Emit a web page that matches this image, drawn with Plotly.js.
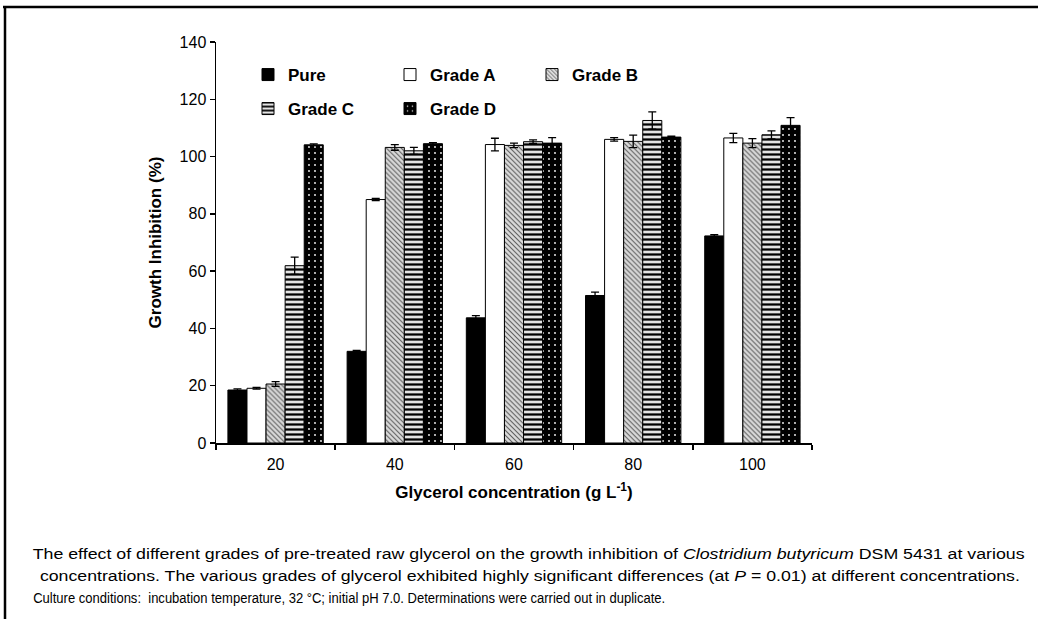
<!DOCTYPE html>
<html>
<head>
<meta charset="utf-8">
<script src="https://cdn.plot.ly/plotly-3.0.1.min.js"></script>
<style>
html,body{margin:0;padding:0;background:#fff;}
#chart{width:1038px;height:619px;}
</style>
</head>
<body>
<div id="chart"></div>
<script>
// ---- data ----
const categories = ['20', '40', '60', '80', '100'];
const seriesNames = ['Pure', 'Grade A', 'Grade B', 'Grade C', 'Grade D'];
const pure = [18.5, 32.0, 43.7, 51.5, 72.3];
const pureErr = [0.4, 0.3, 0.8, 1.2, 0.4];
const gradeA = [19.1, 85.0, 104.2, 106.0, 106.5];
const gradeAErr = [0.3, 0.4, 2.2, 0.6, 1.6];
const gradeB = [20.6, 103.2, 103.9, 105.3, 104.7];
const gradeBErr = [0.8, 1.0, 0.8, 2.2, 1.6];
const gradeC = [61.9, 102.0, 105.2, 112.6, 107.6];
const gradeCErr = [3.0, 1.2, 0.6, 3.0, 1.4];
const gradeD = [104.1, 104.5, 104.7, 106.8, 110.9];
const gradeDErr = [0.3, 0.4, 1.9, 0.3, 2.7];
const yTicks = [0, 20, 40, 60, 80, 100, 120, 140];

const captionLines = [
  'The effect of different grades of pre-treated raw glycerol on the growth inhibition of <i>Clostridium butyricum</i> DSM 5431 at various',
  'concentrations. The various grades of glycerol exhibited highly significant differences (at <i>P</i> = 0.01) at different concentrations.',
  'Culture conditions:\u00a0 incubation temperature, 32 \u00b0C; initial pH 7.0. Determinations were carried out in duplicate.'
];

// ---- layout geometry ----
const W = 1038, H = 619;
const M = {l: 216, r: 226, t: 42, b: 176};
const PW = W - M.l - M.r, PH = H - M.t - M.b;
const px = x => (x - M.l) / PW;
const py = y => (H - M.b - y) / PH;

const FONT = '"Liberation Sans", Arial, Helvetica, sans-serif';

function errs(arr) {
  return {type: 'data', array: arr, visible: true, color: '#000', thickness: 1.3, width: 4};
}
const outline = {color: '#000', width: 1};

const traces = [
  {name: seriesNames[0], x: categories, y: pure, error_y: errs(pureErr), legend: 'legend',
   marker: {color: '#000', line: outline}},
  {name: seriesNames[1], x: categories, y: gradeA, error_y: errs(gradeAErr), legend: 'legend',
   marker: {color: '#fff', line: outline}},
  {name: seriesNames[2], x: categories, y: gradeB, error_y: errs(gradeBErr), legend: 'legend',
   marker: {color: '#d0d0d0', line: outline,
            pattern: {shape: '\\', fgcolor: '#5a5a5a', bgcolor: '#dadada', size: 3.5, solidity: 0.3}}},
  {name: seriesNames[3], x: categories, y: gradeC, error_y: errs(gradeCErr), legend: 'legend2',
   marker: {color: '#fff', line: outline,
            pattern: {shape: '-', fgcolor: '#000', bgcolor: '#e4e4e4', size: 5, solidity: 0.45}}},
  {name: seriesNames[4], x: categories, y: gradeD, error_y: errs(gradeDErr), legend: 'legend2',
   marker: {color: '#000', line: outline,
            pattern: {shape: '.', fgcolor: '#fff', bgcolor: '#000', size: 6, solidity: 0.07}}}
].map(t => Object.assign({type: 'bar', hoverinfo: 'skip'}, t));

const legendBase = {
  orientation: 'h', xanchor: 'left', yanchor: 'top',
  entrywidth: 97, entrywidthmode: 'pixels',
  bgcolor: 'rgba(0,0,0,0)', borderwidth: 0, traceorder: 'normal',
  font: {family: FONT, size: 17, color: '#000', weight: 'bold'}
};

const captionSpans = [[33, 1025], [40, 1020], [33, 665]];
const captionY = [553, 575, 597];
const annotations = captionLines.map((txt, i) => ({
  text: txt, xref: 'paper', yref: 'paper', showarrow: false,
  xanchor: 'center', yanchor: 'middle', align: 'center',
  x: px((captionSpans[i][0] + captionSpans[i][1]) / 2), y: py(captionY[i]),
  font: {family: FONT, size: 15.5, color: '#000'}
}));

const shapes = [
  {type: 'line', xref: 'paper', yref: 'paper', x0: px(3), x1: px(1040), y0: py(7), y1: py(7),
   line: {color: '#000', width: 2.5}},
  {type: 'line', xref: 'paper', yref: 'paper', x0: px(5), x1: px(5), y0: py(6), y1: py(625),
   line: {color: '#000', width: 2.5}}
];

const layout = {
  width: W, height: H,
  margin: M,
  paper_bgcolor: '#fff', plot_bgcolor: '#fff',
  font: {family: FONT, size: 16, color: '#000'},
  barmode: 'group', bargap: 0.2, bargroupgap: 0,
  showlegend: true,
  legend: Object.assign({}, legendBase, {x: px(248), y: py(57)}),
  legend2: Object.assign({}, legendBase, {x: px(248), y: py(91)}),
  xaxis: {
    type: 'category', showline: true, linecolor: '#000', linewidth: 1.5,
    ticks: 'outside', tickson: 'boundaries', ticklen: 5, tickcolor: '#000', tickwidth: 1.5,
    ticklabelstandoff: 6,
    showgrid: false, zeroline: false,
    tickfont: {family: FONT, size: 16, color: '#000'},
    title: {text: 'Glycerol concentration (g L<sup>-1</sup>)', standoff: 14,
            font: {family: FONT, size: 17, color: '#000', weight: 'bold'}}
  },
  yaxis: {
    range: [0, 140], tickvals: yTicks, ticktext: yTicks.map(String),
    showline: true, linecolor: '#000', linewidth: 1.5,
    ticks: 'outside', ticklen: 5, tickcolor: '#000', tickwidth: 1.5,
    showgrid: false, zeroline: false,
    tickfont: {family: FONT, size: 16, color: '#000'},
    title: {text: 'Growth Inhibition (%)', standoff: 13,
            font: {family: FONT, size: 17, color: '#000', weight: 'bold'}}
  },
  annotations: annotations,
  shapes: shapes
};

Plotly.newPlot('chart', traces, layout, {displayModeBar: false, staticPlot: true}).then(gd => {
  // justify caption lines to the reference widths (condensed typeface look)
  const texts = gd.querySelectorAll('.annotation-text');
  texts.forEach((t, i) => {
    if (!captionSpans[i]) return;
    t.setAttribute('textLength', captionSpans[i][1] - captionSpans[i][0]);
    t.setAttribute('lengthAdjust', 'spacingAndGlyphs');
  });
});
</script>
</body>
</html>
